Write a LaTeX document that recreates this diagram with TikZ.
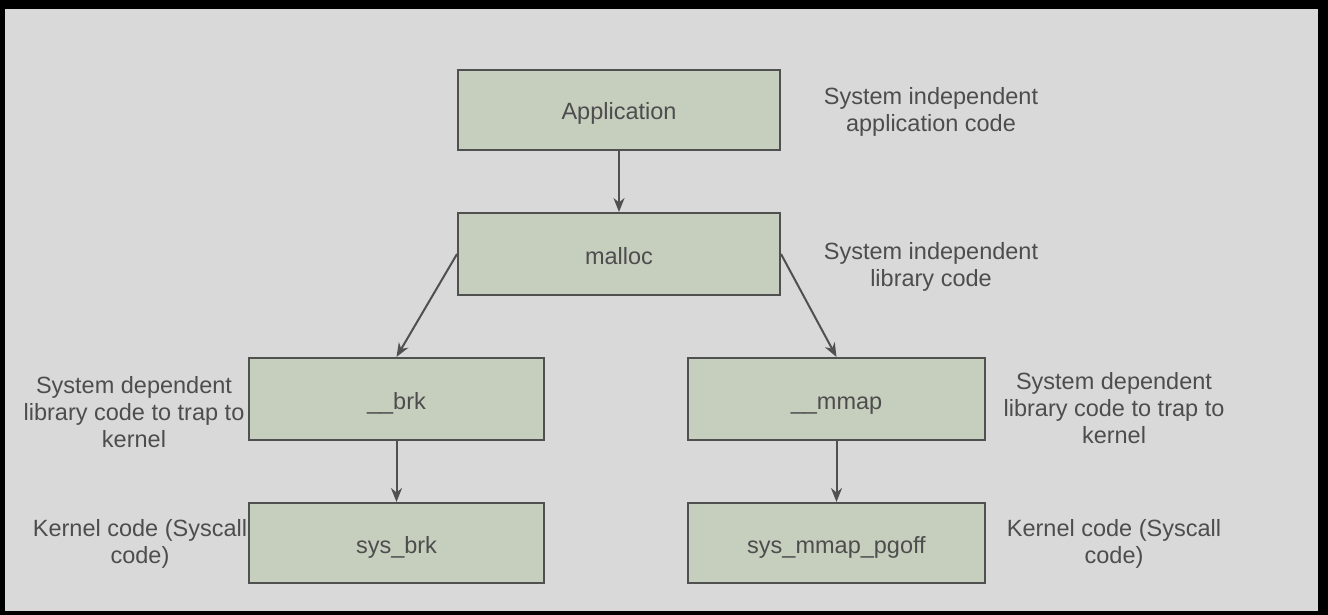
\documentclass[tikz,border=0pt]{standalone}
\usepackage{fontspec}
\setmainfont{Liberation Sans}
\usetikzlibrary{arrows.meta}
\definecolor{bgray}{HTML}{D9D9D9}
\definecolor{boxfill}{HTML}{C6CFBE}
\definecolor{boxline}{HTML}{505050}
\definecolor{txt}{HTML}{4D4D4D}
\tikzset{
  blk/.style={draw=boxline, line width=2pt, fill=boxfill, text=txt, font=\fontsize{23.5}{27}\selectfont, inner sep=0pt, text height=20pt, text depth=0pt},
  lbl/.style={text=txt, font=\fontsize{23.5}{27}\selectfont, align=center, inner sep=0pt},
  conn/.style={draw=boxline, line width=2pt, -{Stealth[length=14pt,width=11pt]}}
}
\begin{document}
\begin{tikzpicture}[x=1pt,y=-1pt]
\fill[black] (0,0) rectangle (1328,615);
\fill[bgray] (5,9) rectangle (1318,611);
\useasboundingbox (0,0) rectangle (1328,615);
\node[blk, minimum width=322pt, minimum height=80pt] (app) at (619,110) {Application};
\node[blk, minimum width=322pt, minimum height=82pt] (mal) at (619,254) {malloc};
\node[blk, minimum width=295pt, minimum height=82pt] (brk) at (396.5,399) {\_\_brk};
\node[blk, minimum width=297pt, minimum height=82pt] (mmap) at (836.5,399) {\_\_mmap};
\node[blk, minimum width=295pt, minimum height=80pt] (sbrk) at (396.5,543) {sys\_brk};
\node[blk, minimum width=297pt, minimum height=80pt] (smmap) at (836.5,543) {sys\_mmap\_pgoff};
\node[lbl] (l1) at (931,112) {System independent\\application code};
\node[lbl] (l2) at (931,267) {System independent\\library code};
\node[lbl] (l3) at (134,412) {System dependent\\library code to trap to\\kernel};
\node[lbl] (l4) at (1114,408) {System dependent\\library code to trap to\\kernel};
\node[lbl] (l5) at (140,544) {Kernel code (Syscall\\code)};
\node[lbl] (l6) at (1114,544) {Kernel code (Syscall\\code)};
\draw[conn] (app.south) -- (mal.north);
\draw[conn] (mal.west) -- (brk.north);
\draw[conn] (mal.east) -- (mmap.north);
\draw[conn] (brk.south) -- (sbrk.north);
\draw[conn] (mmap.south) -- (smmap.north);
\end{tikzpicture}
\end{document}
